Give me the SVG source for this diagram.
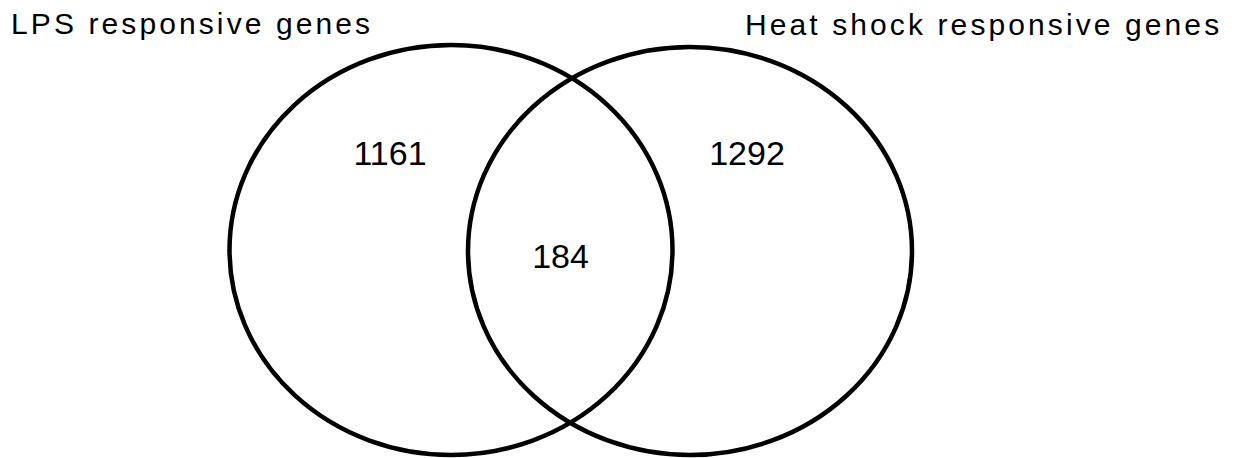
<svg xmlns="http://www.w3.org/2000/svg" width="1234" height="458" viewBox="0 0 1234 458">
<style>
.set{fill:none;stroke:#000;stroke-width:4.5}
.lab{font-family:"Liberation Sans",Arial,sans-serif;font-size:30px;letter-spacing:3.1px;fill:#000}
.num{font-family:"Liberation Sans",Arial,sans-serif;font-size:34px;fill:#000;text-anchor:middle}
</style>
<rect width="1234" height="458" fill="#fff"/>
<g id="set-lps">
<ellipse class="set" cx="451" cy="250" rx="221.5" ry="205"/>
<text class="lab" x="11" y="34.3">LPS responsive genes</text>
<text class="num" x="390" y="165">1161</text>
</g>
<g id="set-heat">
<ellipse class="set" cx="690" cy="251" rx="222" ry="204"/>
<text class="lab" x="745" y="35">Heat shock responsive genes</text>
<text class="num" x="747" y="165">1292</text>
</g>
<g id="overlap">
<text class="num" x="560.5" y="268">184</text>
</g>
<g id="connectors"/>
</svg>
